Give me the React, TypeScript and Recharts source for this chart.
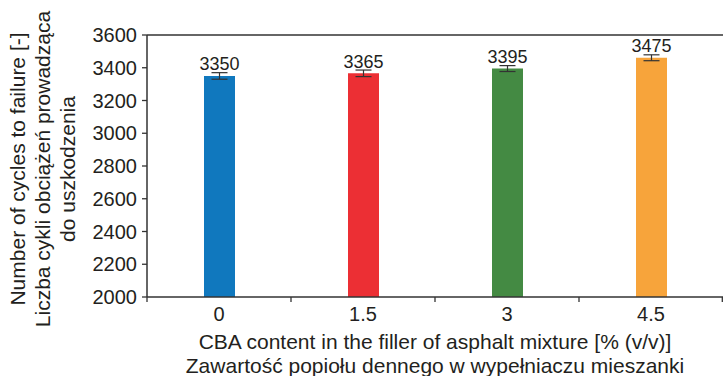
import React from 'react';
import { BarChart, Bar, XAxis, YAxis, ErrorBar, Cell, LabelList, ReferenceLine } from 'recharts';

const categories = ['0', '1.5', '3', '4.5'];
const cycles = [3350, 3366, 3395, 3461];
const errors = [20, 20, 18, 18];
const valueLabels = ['3350', '3365', '3395', '3475'];
const colors = ['#1078be', '#ec2f34', '#448a43', '#f7a43b'];
const yTicks = [2000, 2200, 2400, 2600, 2800, 3000, 3200, 3400, 3600];
const yTitle = ['Number of cycles to failure [-]', 'Liczba cykli obciążeń prowadząca', 'do uszkodzenia'];
const xTitle = [
  'CBA content in the filler of asphalt mixture [% (v/v)]',
  'Zawartość popiołu dennego w wypełniaczu mieszanki',
];

const data = categories.map((c, i) => ({ cat: c, value: cycles[i], err: errors[i] }));

const FONT = '"Liberation Sans", Arial, Helvetica, sans-serif';
const TEXT = '#231f20';
const AXIS = '#333333';

const CategoryTick = (props: any) => {
  const { x, y, payload, index, width, visibleTicksCount } = props;
  const half =
    payload && typeof payload.offset === 'number' && payload.offset > 0
      ? payload.offset
      : width / (visibleTicksCount || categories.length) / 2;
  const axisY = y - 10;
  const isLast = index === (visibleTicksCount || categories.length) - 1;
  return (
    <g>
      <line x1={x - half} x2={x - half} y1={axisY} y2={axisY + 5} stroke={AXIS} strokeWidth={1.3} />
      {isLast && <line x1={x + half - 0.7} x2={x + half - 0.7} y1={axisY} y2={axisY + 5} stroke={AXIS} strokeWidth={1.3} />}
      <text x={x} y={y} dy="0.71em" textAnchor="middle" fontSize={20} fontFamily={FONT} fill={TEXT}>
        {payload.value}
      </text>
    </g>
  );
};

const BarValueLabel = (props: any) => {
  const vb = props.viewBox || props;
  const x = vb.x ?? props.x;
  const y = vb.y ?? props.y;
  const width = vb.width ?? props.width;
  const height = vb.height ?? props.height;
  const index = props.index ?? 0;
  const ppu = height / (cycles[index] - 2000);
  const errPx = errors[index] * ppu;
  return (
    <text x={x + width / 2} y={y - errPx - 2.5} textAnchor="middle" fontSize={18} fontFamily={FONT} fill={TEXT}>
      {valueLabels[index]}
    </text>
  );
};

const YTitle = (props: any) => {
  const vb = props.viewBox;
  const cy = vb.y + vb.height / 2 + 3;
  const xs = [25, 50, 75];
  return (
    <g>
      {yTitle.map((t, i) => (
        <text
          key={i}
          x={xs[i]}
          y={cy}
          transform={`rotate(-90, ${xs[i]}, ${cy})`}
          textAnchor="middle"
          fontSize={21}
          fontFamily={FONT}
          fill={TEXT}
        >
          {t}
        </text>
      ))}
    </g>
  );
};

const XTitle = (props: any) => {
  const vb = props.viewBox;
  const cx = vb.x + vb.width / 2;
  const ys = [vb.y + 52, vb.y + 75.5];
  return (
    <g>
      {xTitle.map((t, i) => (
        <text key={i} x={cx} y={ys[i]} textAnchor="middle" fontSize={21} fontFamily={FONT} fill={TEXT}>
          {t}
        </text>
      ))}
    </g>
  );
};

export default function App() {
  return (
    <div style={{ position: 'absolute', left: 0, top: 0, width: 723, height: 376, background: '#fff' }}>
      <BarChart width={723} height={376} data={data} margin={{ top: 35, right: 0, bottom: 0, left: 0 }}>
        <XAxis
          dataKey="cat"
          height={79}
          tickLine={false}
          tickSize={5}
          tickMargin={5}
          axisLine={{ stroke: AXIS, strokeWidth: 1.5 }}
          tick={<CategoryTick />}
          interval={0}
          label={{ content: XTitle }}
        />
        <YAxis
          width={147}
          domain={[2000, 3600]}
          ticks={yTicks}
          allowDataOverflow
          tickSize={5}
          tickMargin={5}
          axisLine={{ stroke: AXIS, strokeWidth: 1.5 }}
          tickLine={{ stroke: AXIS, strokeWidth: 1.3 }}
          tick={{ fontSize: 20, fontFamily: FONT, fill: TEXT }}
          label={{ content: YTitle }}
        />
        <ReferenceLine y={3600} stroke={AXIS} strokeWidth={1.5} />
        <Bar dataKey="value" barSize={31} isAnimationActive={false}>
          {data.map((d, i) => (
            <Cell key={i} fill={colors[i]} />
          ))}
          <ErrorBar dataKey="err" width={8} stroke={AXIS} strokeWidth={1.2} direction="y" />
          <LabelList dataKey="value" content={BarValueLabel} />
        </Bar>
      </BarChart>
    </div>
  );
}
